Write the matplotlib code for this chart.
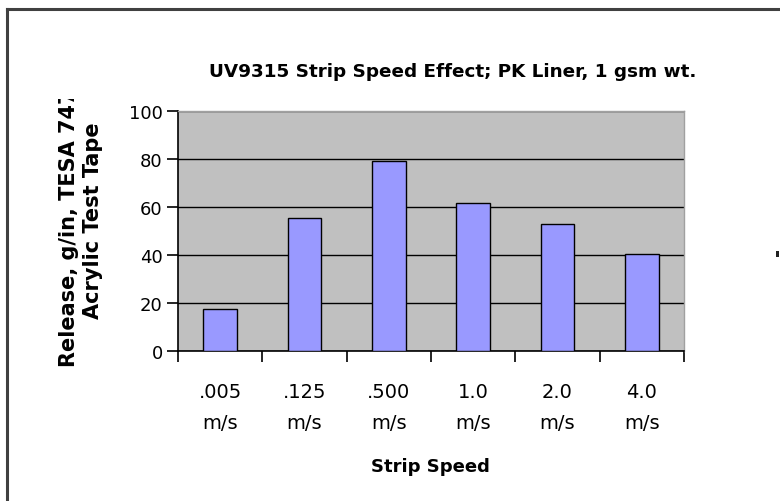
import matplotlib
matplotlib.use("Agg")
import matplotlib.pyplot as plt
from matplotlib.transforms import Bbox, TransformedBbox
from matplotlib.lines import Line2D
from matplotlib.patches import Rectangle
import numpy as np

categories = [".005\nm/s", ".125\nm/s", ".500\nm/s", "1.0\nm/s", "2.0\nm/s", "4.0\nm/s"]
values = [17.7, 55.5, 79.3, 61.5, 53.0, 40.4]
yticks = [0, 20, 40, 60, 80, 100]

title = "UV9315 Strip Speed Effect; PK Liner, 1 gsm wt."
xlabel = "Strip Speed"
ylabel = "Release, g/in, TESA 7475\nAcrylic Test Tape"

plt.rcParams['font.family'] = ['DejaVu Sans']

W, H = 780, 502
fig = plt.figure(figsize=(W / 100, H / 100), dpi=100)
fig.patch.set_facecolor('white')

def fx(px):
    return px / W

def fy(py):
    return 1 - py / H

ax = fig.add_axes([fx(178), fy(352), fx(684) - fx(178), fy(112) - fy(352)])
ax.set_facecolor('#C0C0C0')

x = np.arange(len(categories))
ax.set_axisbelow(True)
ax.yaxis.grid(True, color='black', linewidth=1.0)
ax.bar(x, values, width=0.4, color='#9999FF', edgecolor='black', linewidth=1.0, zorder=3)

ax.set_xlim(-0.5, len(categories) - 0.5)
ax.set_ylim(0, 100)
ax.set_yticks(yticks)
ax.set_yticklabels([str(v) for v in yticks], fontsize=13)

ax.set_xticks(np.arange(len(categories) + 1) - 0.5)
ax.set_xticklabels([])
ax.set_xticks(x, minor=True)
ax.set_xticklabels(categories, minor=True, fontsize=14, linespacing=1.85)
ax.tick_params(axis='x', which='minor', length=0, pad=22)
ax.tick_params(axis='both', which='major', direction='out', length=8, width=1.2, color='black')
ax.tick_params(axis='y', pad=3)

for s in ['left', 'bottom']:
    ax.spines[s].set_color('black')
    ax.spines[s].set_linewidth(1.2)
for s in ['top', 'right']:
    ax.spines[s].set_color('#A0A0A0')
    ax.spines[s].set_linewidth(1.0)

fig.text(fx(453), fy(72), title, ha='center', va='center', fontsize=13.2, fontweight='bold')
fig.text(fx(430), fy(467), xlabel, ha='center', va='center', fontsize=13, fontweight='bold')

yl = fig.text(fx(81), fy(221), ylabel, ha='center', va='center', rotation=90,
              fontsize=15, fontweight='bold', multialignment='center', linespacing=1.2)
clip = TransformedBbox(Bbox([[0, 0], [1, fy(100)]]), fig.transFigure)
yl.set_clip_box(clip)
yl.set_clip_on(True)

# chart area border (top and left visible)
fig.add_artist(Line2D([fx(7), 1], [fy(10), fy(10)], transform=fig.transFigure, color='#404040', linewidth=2.2))
fig.add_artist(Line2D([fx(7), fx(7)], [fy(10), 0], transform=fig.transFigure, color='#404040', linewidth=2.2))
# cut-off legend fragment at right edge
fig.add_artist(Rectangle((fx(776), fy(258)), fx(3), 6 / H, transform=fig.transFigure,
                         facecolor='#202020', edgecolor='none'))

fig.savefig('out.png', dpi=100)
